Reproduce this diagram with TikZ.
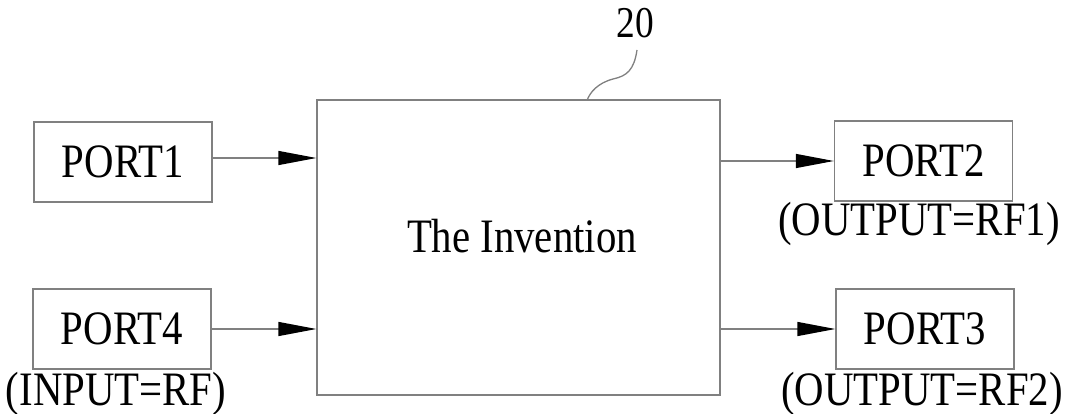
\documentclass[tikz,border=0pt]{standalone}
\usepackage{fontspec}
\setmainfont{Liberation Serif}[FakeStretch=0.85]
\usetikzlibrary{arrows.meta,calc}
\begin{document}
\begin{tikzpicture}[x=1pt,y=-1pt,
  line/.style={draw=black!50,line width=1.3pt},
  portbox/.style={line,minimum width=178pt,minimum height=80pt,inner sep=0pt,font=\fontsize{48}{50}\selectfont},
  lbl/.style={anchor=base,inner sep=0pt,font=\fontsize{48}{50}\selectfont},
  arr/.style={line,-{Triangle[length=38pt,width=14pt,color=black]}}]
\useasboundingbox (0,0) rectangle (1067,414);
\node[line,minimum width=403pt,minimum height=295pt,inner sep=0pt] (main) at (518.5,247.5) {};
\node[lbl] (inv) at (522,252) {The Invention};
\node[portbox] (p1) at (123,162) {PORT1};
\node[portbox] (p4) at (122,329) {PORT4};
\node[portbox] (p2) at (923.5,161) {PORT2};
\node[portbox] (p3) at (925,329) {PORT3};
\node[lbl] (l4) at (116,405) {(INPUT=RF)};
\node[lbl] (l2) at (919,235) {(OUTPUT=RF1)};
\node[lbl] (l3) at (922,405) {(OUTPUT=RF2)};
\node[lbl,font=\fontsize{44}{46}\selectfont] (n20) at (635,38) {20};
\draw[arr] ($(p1.east)+(0,-4)$) -- ($(main.west|-p1.east)+(0,-4)$);
\draw[arr] (p4.east) -- (main.west|-p4.east);
\draw[arr] (main.east|-p2.west) -- (p2.west);
\draw[arr] (main.east|-p3.west) -- (p3.west);
\coordinate (lt) at (637,50);
\coordinate (lb) at (587,100.5);
\draw[line] (lt) .. controls (634,70) and (627,76) .. (613,79) .. controls (598,83) and (590,92) .. (lb);
\end{tikzpicture}
\end{document}
